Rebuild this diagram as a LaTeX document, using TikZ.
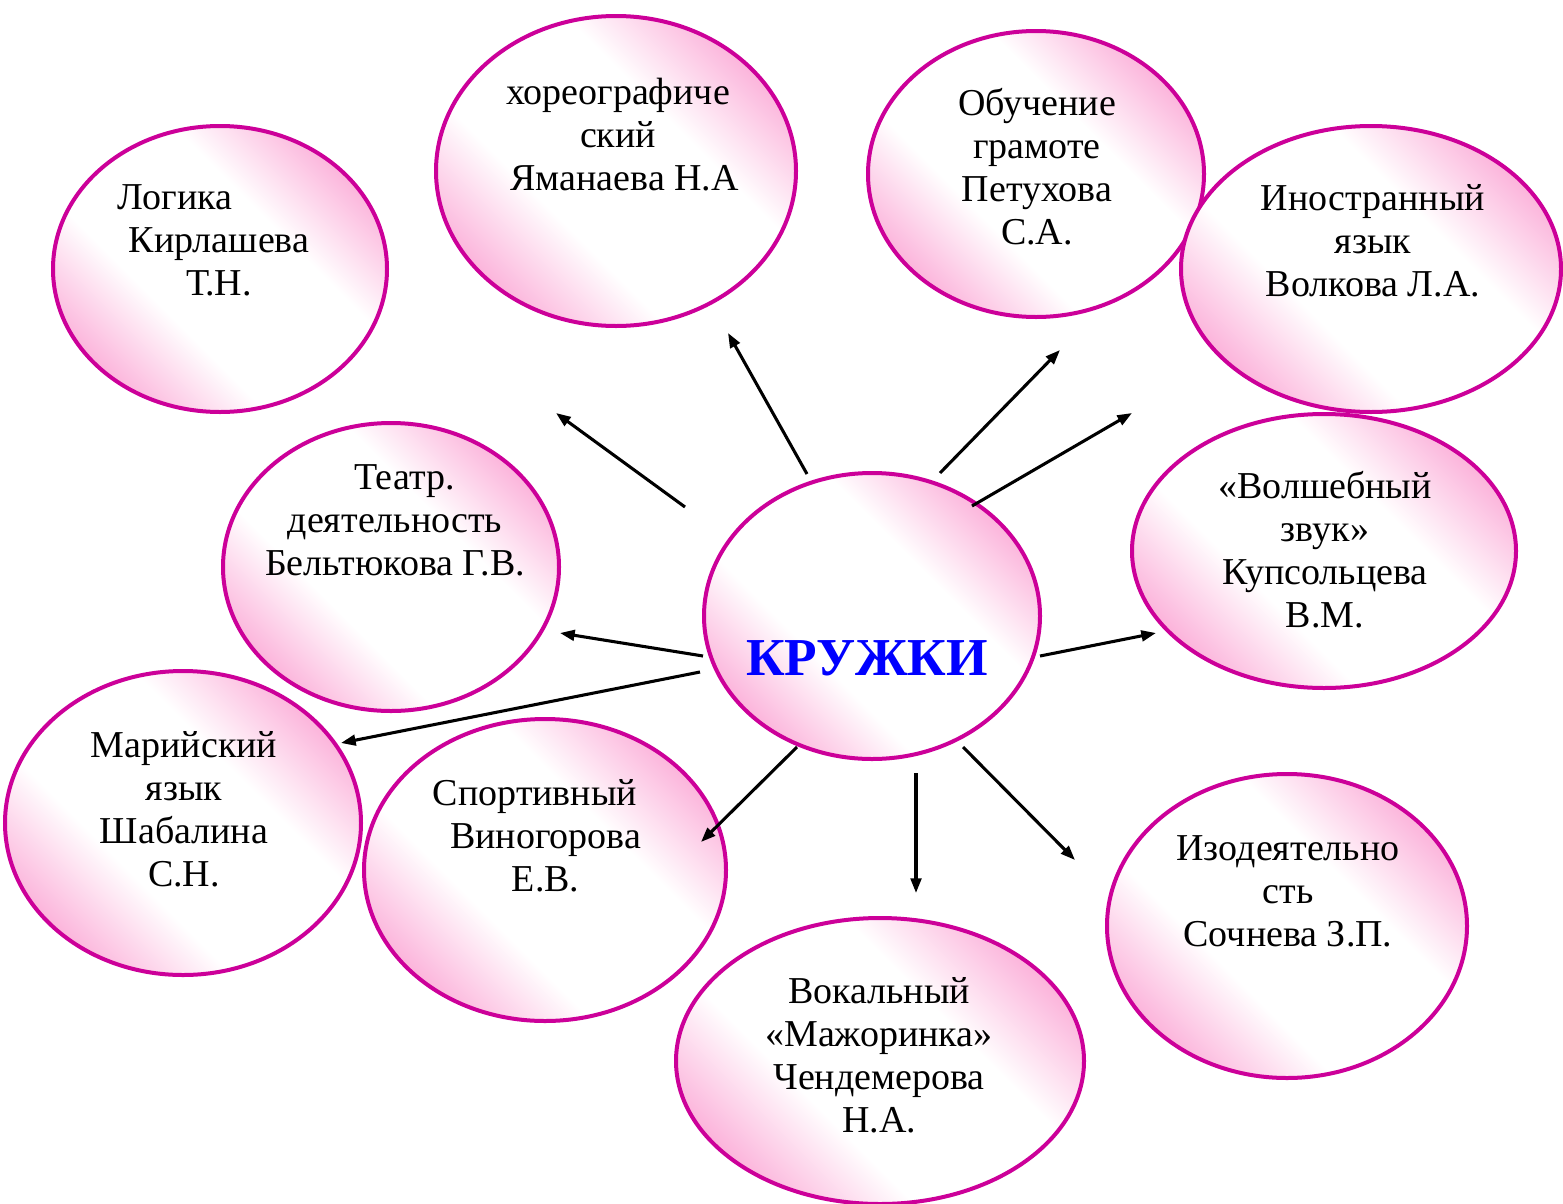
\documentclass[tikz,border=0pt]{standalone}
\usepackage{fontspec}
\setmainfont{Liberation Serif}
\usetikzlibrary{shapes.geometric,arrows.meta}
\definecolor{rimc}{RGB}{204,0,153}
\definecolor{pinkc}{RGB}{251,165,212}
\definecolor{kblue}{RGB}{0,0,255}
\pgfdeclarehorizontalshading{pinkband}{100bp}{color(0bp)=(pinkc); color(22bp)=(pinkc); color(39bp)=(white); color(61bp)=(white); color(78bp)=(pinkc); color(100bp)=(pinkc)}
\begin{document}
\begin{tikzpicture}[x=0.75pt,y=-0.75pt,
  bubble/.style 2 args={ellipse, draw=rimc, line width=3pt, shading=pinkband, shading angle=45, inner sep=0pt,
     minimum width=#1*0.75pt, minimum height=#2*0.75pt},
  txt/.style={align=center, font=\fontsize{28.5}{32.3}\selectfont, inner sep=0pt, text=black},
  arr/.style={line width=2.3pt, -{Triangle[length=11pt,width=8pt]}}]
\useasboundingbox (0,0) rectangle (1563,1203);
% bubbles
\node[bubble={334}{286}] (logic) at (220,269) {};
\node[bubble={360}{310}] (chor) at (616,171) {};
\node[bubble={336}{286}] (gram) at (1036,174) {};
\node[bubble={380}{286}] (lang) at (1371,269) {};
\node[bubble={336}{288}] (teatr) at (391,567) {};
\node[bubble={336}{286}] (center) at (872,616) {};
\node[bubble={384}{274}] (zvuk) at (1324,551) {};
\node[bubble={356}{304}] (mari) at (183,823) {};
\node[bubble={362}{302}] (sport) at (545,870) {};
\node[bubble={360}{304}] (izo) at (1287,926) {};
\node[bubble={408}{286}] (vokal) at (880,1061) {};
% texts
\node[txt, anchor=north] (tlogic) at (219,184) {Логика\hspace*{66pt}\\Кирлашева\\Т.Н.};
\node[txt, anchor=north] (tchor) at (618,78) {хореографиче\\ский\\\hspace*{10pt}Яманаева Н.А};
\node[txt, anchor=north] (tgram) at (1037,88) {Обучение\\грамоте\\Петухова\\С.А.};
\node[txt, anchor=north] (tlang) at (1373,184) {Иностранный\\язык\\Волкова Л.А.};
\node[txt, anchor=north] (tteatr) at (395,464) {\hspace*{14pt}Театр.\\деятельность\\Бельтюкова Г.В.};
\node[txt, anchor=north] (tzvuk) at (1325,471) {«Волшебный\\звук»\\Купсольцева\\В.М.};
\node[txt, anchor=north] (tmari) at (184,731) {Марийский\\язык\\Шабалина\\С.Н.};
\node[txt, anchor=north] (tsport) at (535,779) {Спортивный\\\hspace*{16pt}Виногорова\\\hspace*{16pt}Е.В.};
\node[txt, anchor=north] (tizo) at (1288,835) {Изодеятельно\\сть\\Сочнева З.П.};
\node[txt, anchor=north] (tvokal) at (879,977) {Вокальный\\«Мажоринка»\\Чендемерова\\Н.А.};
\node[font=\fontsize{40}{44}\selectfont\bfseries, text=kblue, inner sep=0pt] (tcenter) at (867,658) {КРУЖКИ};
% arrow ends
\coordinate (s1) at (685,507); \coordinate (e1) at (556,413);
\coordinate (s2) at (807,474); \coordinate (e2) at (728,333);
\coordinate (s3) at (940,473); \coordinate (e3) at (1060,350);
\coordinate (s4) at (972,506); \coordinate (e4) at (1132,413);
\coordinate (s5) at (703,656); \coordinate (e5) at (560,633);
\coordinate (s6) at (1040,656); \coordinate (e6) at (1156,633);
\coordinate (s7) at (700,672); \coordinate (e7) at (341,743);
\coordinate (s8) at (797,747); \coordinate (e8) at (701,842);
\coordinate (s9) at (916,773); \coordinate (e9) at (916,893);
\coordinate (s10) at (963,747); \coordinate (e10) at (1075,860);
\foreach \i in {1,...,10} {\draw[arr] (s\i) -- (e\i);}
\end{tikzpicture}
\end{document}
